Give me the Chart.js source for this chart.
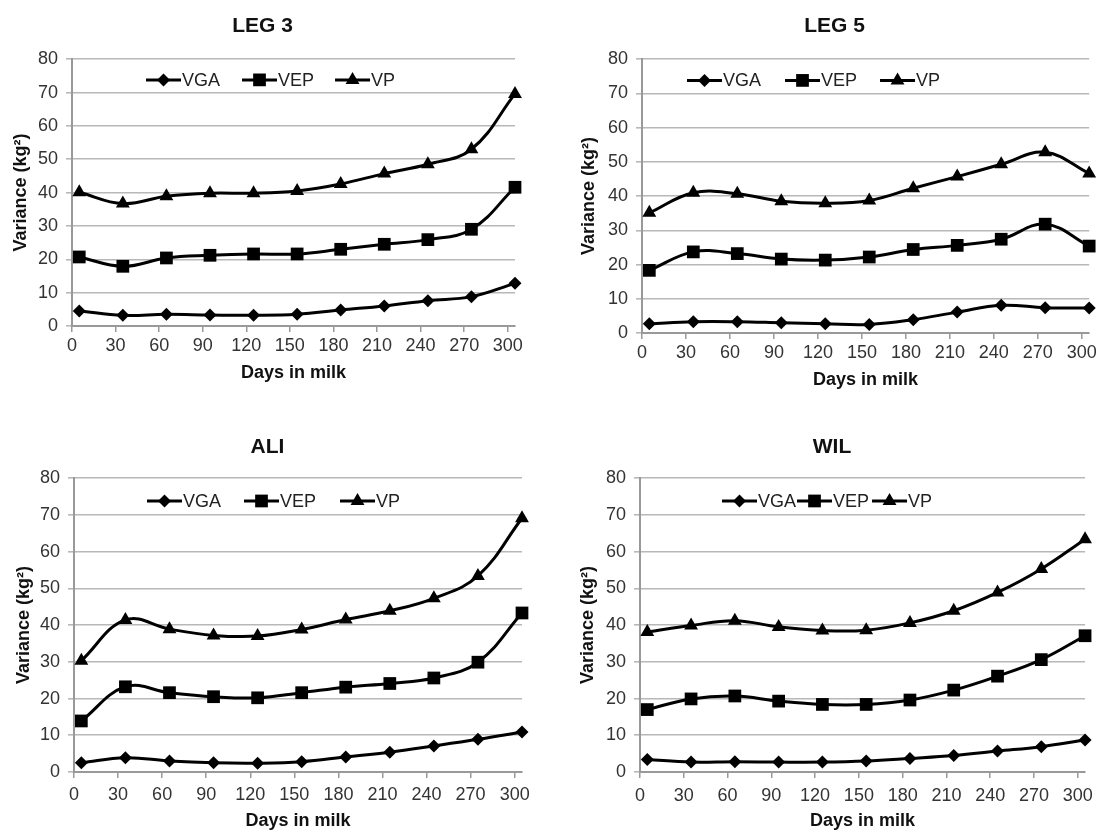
<!DOCTYPE html>
<html>
<head>
<meta charset="utf-8">
<script src="https://cdn.jsdelivr.net/npm/chart.js@4.4.0/dist/chart.umd.min.js"></script>
<style>
  html, body { margin: 0; padding: 0; background: #fff; }
  #wrap { position: relative; width: 1100px; height: 833px; overflow: hidden; }
  .panel { position: absolute; }
</style>
</head>
<body>
<div id="wrap">
  <div class="panel" style="left:0;top:0;width:550px;height:416px"><canvas id="c1"></canvas></div>
  <div class="panel" style="left:550px;top:0;width:550px;height:416px"><canvas id="c2"></canvas></div>
  <div class="panel" style="left:0;top:416px;width:550px;height:417px"><canvas id="c3"></canvas></div>
  <div class="panel" style="left:550px;top:416px;width:550px;height:417px"><canvas id="c4"></canvas></div>
</div>
<script>
// data
const days = [5, 35, 65, 95, 125, 155, 185, 215, 245, 275, 305];
const xTickValues = [0, 30, 60, 90, 120, 150, 180, 210, 240, 270, 300];
const yTickValues = [0, 10, 20, 30, 40, 50, 60, 70, 80];
const seriesNames = ["VGA", "VEP", "VP"];
const panelTitles = ["LEG 3", "LEG 5", "ALI", "WIL"];

const leg3VGA = [4.5, 3.2, 3.5, 3.3, 3.2, 3.5, 4.8, 6.0, 7.6, 8.8, 12.8];
const leg3VEP = [20.7, 17.9, 20.4, 21.2, 21.6, 21.6, 23.0, 24.5, 25.9, 29.0, 41.6];
const leg3VP = [40.1, 36.7, 38.9, 39.8, 39.8, 40.5, 42.6, 45.7, 48.5, 53.0, 69.6];

const leg5VGA = [2.7, 3.3, 3.3, 3.0, 2.7, 2.5, 3.9, 6.1, 8.1, 7.4, 7.3];
const leg5VEP = [18.3, 23.7, 23.2, 21.6, 21.3, 22.2, 24.4, 25.6, 27.4, 31.8, 25.4];
const leg5VP = [35.1, 41.0, 40.7, 38.5, 37.9, 38.7, 42.3, 45.7, 49.3, 52.8, 46.6];

const aliVGA = [2.5, 3.9, 3.0, 2.5, 2.4, 2.8, 4.1, 5.4, 7.1, 8.9, 10.9];
const aliVEP = [13.9, 23.2, 21.6, 20.5, 20.2, 21.6, 23.1, 24.1, 25.6, 29.9, 43.3];
const aliVP = [30.3, 41.4, 38.9, 37.2, 37.0, 38.8, 41.5, 43.9, 47.3, 53.4, 69.1];

const wilVGA = [3.4, 2.7, 2.8, 2.7, 2.7, 3.0, 3.7, 4.5, 5.7, 6.9, 8.7];
const wilVEP = [17.0, 19.9, 20.7, 19.3, 18.4, 18.4, 19.6, 22.3, 26.1, 30.6, 37.1];
const wilVP = [38.1, 39.9, 41.2, 39.5, 38.5, 38.6, 40.6, 43.9, 48.9, 55.3, 63.4];

const legendLevel = 73.8;

Chart.defaults.font.family = '"Liberation Sans", Arial, sans-serif';
Chart.defaults.color = "#333";

const markerStyles = [
  { pointStyle: "rectRot", radius: 6.5 },
  { pointStyle: "rect", radius: 9 },
  { pointStyle: "triangle", radius: 8 },
];

// panel geometry (pixels inside each canvas)
const layouts = [
  { id: "c1", pad: { left: 10, right: 35, top: 0, bottom: 32 }, yW: 62, titlePad: { top: 14, bottom: 20 }, xH: 58, tickPad: 3, legX: 74, legGaps: [22, 21] },
  { id: "c2", pad: { left: 28, right: 9, top: 0, bottom: 25 }, yW: 64, titlePad: { top: 14, bottom: 20 }, xH: 58, tickPad: 3, legX: 45, legGaps: [24, 23] },
  { id: "c3", pad: { left: 13, right: 28, top: 0, bottom: 1 }, yW: 61, titlePad: { top: 19, bottom: 18 }, xH: 60, tickPad: 6, legX: 73, legGaps: [23, 24] },
  { id: "c4", pad: { left: 27, right: 13, top: 0, bottom: 1 }, yW: 63, titlePad: { top: 19, bottom: 18 }, xH: 60, tickPad: 7, legX: 82, legGaps: [1, 3] },
];

function drawMarker(ctx, style, r, x, y) {
  ctx.beginPath();
  if (style === "rectRot") {
    ctx.moveTo(x, y - r); ctx.lineTo(x + r, y); ctx.lineTo(x, y + r); ctx.lineTo(x - r, y);
  } else if (style === "rect") {
    const s = r * Math.SQRT1_2;
    ctx.rect(x - s, y - s, 2 * s, 2 * s);
  } else {
    ctx.moveTo(x, y - r);
    ctx.lineTo(x + r * Math.sin(Math.PI * 2 / 3), y - r * Math.cos(Math.PI * 2 / 3));
    ctx.lineTo(x - r * Math.sin(Math.PI * 2 / 3), y - r * Math.cos(Math.PI * 2 / 3));
  }
  ctx.closePath();
  ctx.fill();
}

// legend drawn inside the plot, Excel style (line through marker)
const legendInPlot = {
  id: "legendInPlot",
  afterDatasetsDraw(chart, args, opts) {
    const ctx = chart.ctx;
    const y = chart.scales.y.getPixelForValue(legendLevel);
    let x = chart.chartArea.left + opts.startX;
    const lineLen = 35;
    ctx.save();
    ctx.font = '18px "Liberation Sans", Arial, sans-serif';
    ctx.textBaseline = "middle";
    chart.data.datasets.forEach((ds, i) => {
      ctx.strokeStyle = "#000";
      ctx.fillStyle = "#000";
      ctx.lineWidth = 3;
      ctx.beginPath();
      ctx.moveTo(x, y);
      ctx.lineTo(x + lineLen, y);
      ctx.stroke();
      drawMarker(ctx, ds.pointStyle, ds.pointRadius, x + lineLen / 2, y);
      ctx.fillStyle = "#222";
      ctx.fillText(ds.label, x + lineLen + 1, y + 1);
      x += lineLen + 1 + ctx.measureText(ds.label).width + (opts.gaps[i] || 0);
    });
    ctx.restore();
  },
};

function makeChart(lay, title, values) {
  const ctx = document.getElementById(lay.id).getContext("2d");
  return new Chart(ctx, {
    type: "line",
    data: {
      datasets: values.map((vals, i) => ({
        label: seriesNames[i],
        data: days.map((d, k) => ({ x: d, y: vals[k] })),
        borderColor: "#000",
        backgroundColor: "#000",
        borderWidth: 3,
        pointStyle: markerStyles[i].pointStyle,
        pointRadius: markerStyles[i].radius,
        pointBorderWidth: 0,
        pointBackgroundColor: "#000",
        tension: 0.4,
        clip: false,
      })),
    },
    options: {
      responsive: true,
      maintainAspectRatio: false,
      animation: false,
      layout: { padding: lay.pad },
      plugins: {
        legend: { display: false },
        tooltip: { enabled: false },
        title: {
          display: true,
          text: title,
          color: "#111",
          font: { size: 21, weight: "bold" },
          padding: lay.titlePad,
        },
        legendInPlot: { startX: lay.legX, gaps: lay.legGaps },
      },
      scales: {
        x: {
          type: "linear",
          min: 0,
          max: 305,
          afterBuildTicks: (s) => { s.ticks = xTickValues.map((v) => ({ value: v })); },
          afterFit: (s) => { s.height = lay.xH; },
          grid: { drawOnChartArea: false, drawTicks: true, tickLength: 6, color: "#999", lineWidth: 1.5 },
          border: { display: true, color: "#999", width: 2 },
          ticks: { padding: lay.tickPad, color: "#333", font: { size: 18 }, maxRotation: 0, autoSkip: false },
          title: { display: true, text: "Days in milk", color: "#111", font: { size: 18, weight: "bold" }, padding: 0 },
        },
        y: {
          min: 0,
          max: 80,
          afterBuildTicks: (s) => { s.ticks = yTickValues.map((v) => ({ value: v })); },
          afterFit: (s) => { s.width = lay.yW; },
          grid: { color: "#b8b8b8", lineWidth: 1.6, tickLength: 6 },
          border: { display: true, color: "#999", width: 2 },
          ticks: { padding: 8, color: "#333", font: { size: 18 } },
          title: { display: true, text: "Variance (kg²)", color: "#111", font: { size: 18, weight: "bold" }, padding: 0 },
        },
      },
    },
    plugins: [legendInPlot],
  });
}

makeChart(layouts[0], panelTitles[0], [leg3VGA, leg3VEP, leg3VP]);
makeChart(layouts[1], panelTitles[1], [leg5VGA, leg5VEP, leg5VP]);
makeChart(layouts[2], panelTitles[2], [aliVGA, aliVEP, aliVP]);
makeChart(layouts[3], panelTitles[3], [wilVGA, wilVEP, wilVP]);
</script>
</body>
</html>
